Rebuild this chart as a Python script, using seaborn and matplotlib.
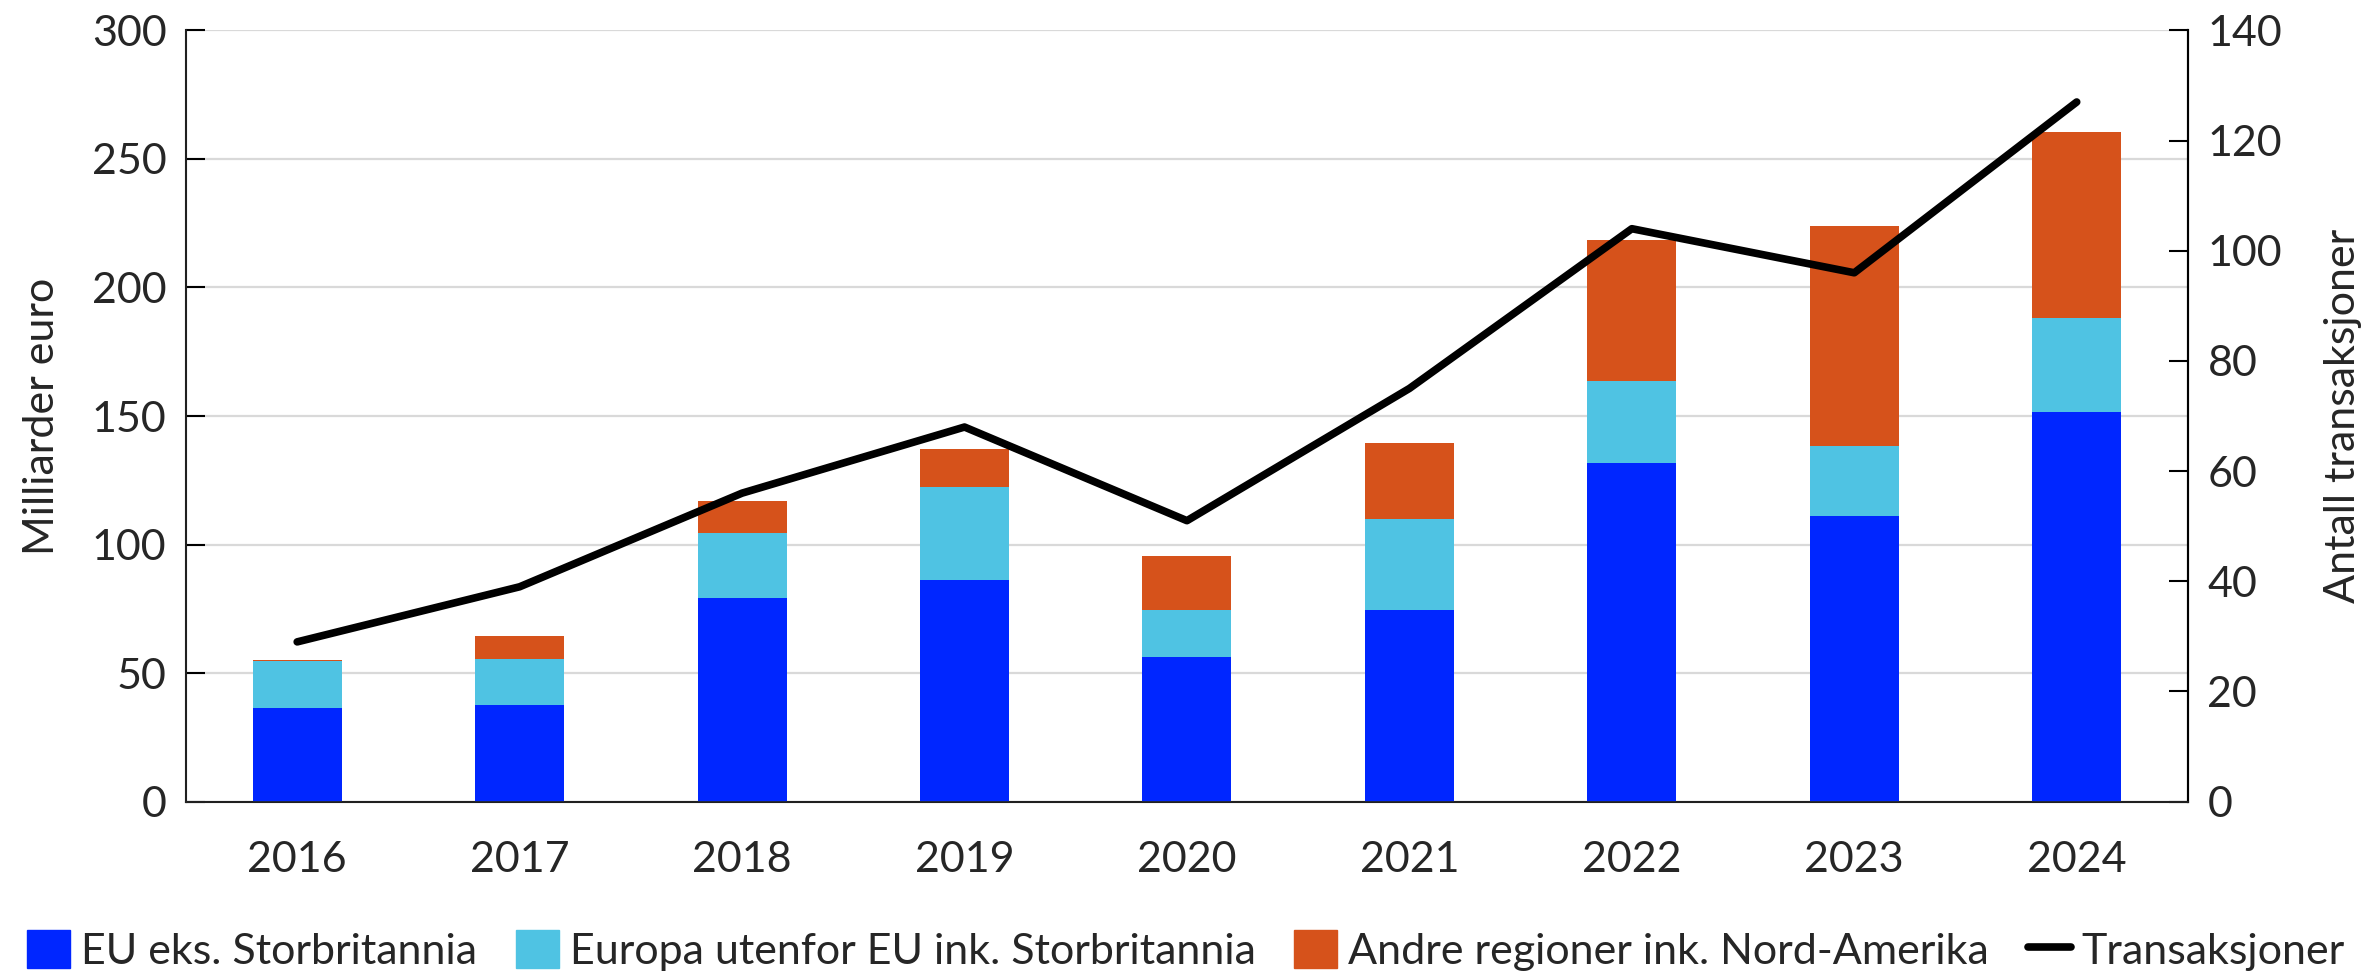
import numpy as np
import pandas as pd
import matplotlib
matplotlib.use("Agg")
import matplotlib.pyplot as plt
import seaborn as sns
from matplotlib.patches import Patch
from matplotlib.lines import Line2D

years = ["2016", "2017", "2018", "2019", "2020", "2021", "2022", "2023", "2024"]
eu = [36.4, 37.4, 79.1, 86.3, 56.1, 74.6, 131.9, 111.2, 151.4]
europa = [18.3, 18.1, 25.3, 36.0, 18.3, 35.3, 31.9, 27.3, 36.6]
andre = [0.4, 8.8, 12.7, 14.7, 21.3, 29.6, 54.6, 85.5, 72.3]
transaksjoner = [29, 39, 56, 68, 51, 75, 104, 96, 127]

labels = ["EU eks. Storbritannia", "Europa utenfor EU ink. Storbritannia",
          "Andre regioner ink. Nord-Amerika", "Transaksjoner"]
c_eu, c_europa, c_andre = "#0026FF", "#4FC3E3", "#D6521B"

FS = 31

sns.set_theme(style="white")
plt.rcParams["font.family"] = ["Lato", "DejaVu Sans"]
plt.rcParams["font.size"] = FS

df = pd.DataFrame({"year": years, "eu": eu, "europa": europa, "andre": andre})
df["lvl2"] = df["eu"] + df["europa"]
df["lvl3"] = df["lvl2"] + df["andre"]

fig = plt.figure(figsize=(23.72, 9.8), dpi=100)
ax = fig.add_axes([0.0784, 0.182, 0.844, 0.787])

for col, color in [("lvl3", c_andre), ("lvl2", c_europa), ("eu", c_eu)]:
    sns.barplot(data=df, x="year", y=col, color=color, width=0.4,
                saturation=1, ax=ax, zorder=3, linewidth=0)

ax.set_ylim(0, 300)
ax.set_xlim(-0.5, 8.5)
ax.set_yticks(np.arange(0, 301, 50))
ax.yaxis.grid(True, color="#D9D9D9", linewidth=1.6, zorder=0)
ax.set_axisbelow(True)
ax.set_xlabel("")
ax.set_ylabel("Milliarder euro", fontsize=FS, labelpad=22)
ax.set_xticks(np.arange(9))
ax.set_xticklabels(years)
ax.tick_params(axis="x", length=0, labelsize=FS, pad=28)
ax.set_xticks(np.arange(0.5, 8.5, 1), minor=True)
ax.tick_params(axis="x", which="minor", direction="in", length=12, width=1.5, color="black")
ax.tick_params(axis="y", direction="in", length=14, width=1.5, labelsize=FS, pad=14, color="black")
ax.spines["top"].set_visible(False)
for s in ["left", "bottom", "right"]:
    ax.spines[s].set_color("black")
    ax.spines[s].set_linewidth(1.5)

ax2 = ax.twinx()
sns.lineplot(x=np.arange(9), y=transaksjoner, color="black", linewidth=5.5, ax=ax2, zorder=5)
ax2.set_ylim(0, 140)
ax2.set_yticks(np.arange(0, 141, 20))
ax2.set_ylabel("Antall transaksjoner", fontsize=FS, labelpad=30)
ax2.tick_params(axis="y", direction="in", length=14, width=1.5, labelsize=FS, pad=14, color="black")
ax2.spines["top"].set_visible(False)
ax2.spines["right"].set_linewidth(1.5)
ax2.spines["right"].set_color("black")
ax2.grid(False)
ax2.set_xlim(-0.5, 8.5)

handles = [Patch(color=c_eu), Patch(color=c_europa), Patch(color=c_andre),
           Line2D([0], [0], color="black", linewidth=5.5)]
fig.legend(handles, labels, loc="lower center", bbox_to_anchor=(0.5, -0.03), ncol=4,
           frameon=False, fontsize=FS, handlelength=1.0, handleheight=1.0,
           handletextpad=0.25, columnspacing=0.9)

fig.savefig("out.png", dpi=100)
